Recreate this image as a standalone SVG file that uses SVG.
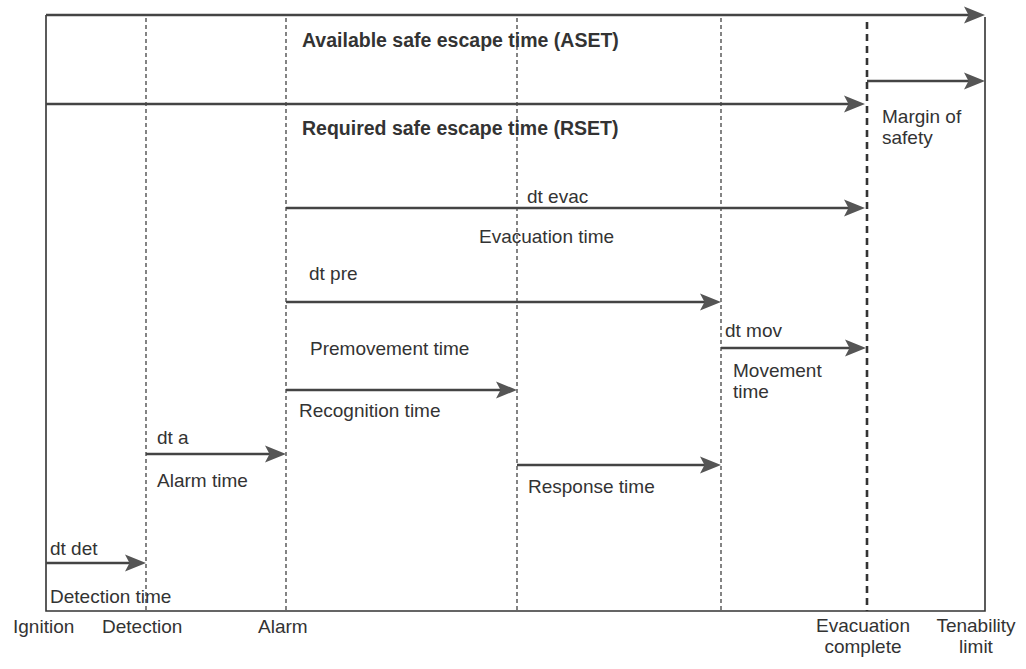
<svg xmlns="http://www.w3.org/2000/svg" width="1026" height="669" viewBox="0 0 1026 669">
<style>
  .frame{fill:none;stroke:#333;stroke-width:1.6}
  .vdash{stroke:#333;stroke-width:1.2;stroke-dasharray:4 3}
  .vthick{stroke:#333;stroke-width:2.6;stroke-dasharray:7 5}
  .arr{stroke:#444;stroke-width:2.6;fill:none;marker-end:url(#ah)}
  .t{font-family:"Liberation Sans",Arial,Helvetica,sans-serif;font-size:19px;fill:#333}
  .b{font-weight:bold;font-size:19.5px}
  .m{text-anchor:middle}
</style>
<defs>
  <marker id="ah" markerUnits="userSpaceOnUse" markerWidth="26" markerHeight="22" refX="10" refY="10" orient="auto">
    <path d="M22,10 L1,1.5 L5.5,10 L1,18.5 Z" fill="#555"/>
  </marker>
</defs>
<rect width="1026" height="669" fill="#ffffff"/>

<g id="frame">
  <path class="frame" d="M46,15 L46,611 L985,611 L985,17"/>
</g>

<g id="events">
  <line id="ev-detection" class="vdash" x1="146" y1="18" x2="146" y2="611"/>
  <line id="ev-alarm" class="vdash" x1="286" y1="18" x2="286" y2="611"/>
  <line id="ev-recognition" class="vdash" x1="517" y1="18" x2="517" y2="611"/>
  <line id="ev-premove" class="vdash" x1="721" y1="18" x2="721" y2="611"/>
  <line id="ev-evac" class="vthick" x1="867" y1="22" x2="867" y2="611"/>
</g>

<g id="connectors">
  <line id="c-aset" class="arr" x1="46" y1="15" x2="973" y2="15"/>
  <line id="c-margin" class="arr" x1="867" y1="81" x2="973" y2="81"/>
  <line id="c-rset" class="arr" x1="46" y1="104" x2="853" y2="104"/>
  <line id="c-evac" class="arr" x1="286" y1="208" x2="853" y2="208"/>
  <line id="c-pre" class="arr" x1="286" y1="302" x2="709" y2="302"/>
  <line id="c-mov" class="arr" x1="721" y1="348" x2="854" y2="348"/>
  <line id="c-recog" class="arr" x1="286" y1="390" x2="505" y2="390"/>
  <line id="c-alarm" class="arr" x1="146" y1="454" x2="274" y2="454"/>
  <line id="c-resp" class="arr" x1="517" y1="465" x2="709" y2="465"/>
  <line id="c-det" class="arr" x1="46" y1="563" x2="134" y2="563"/>
</g>

<g id="labels">
  <text class="t b" x="302" y="47">Available safe escape time (ASET)</text>
  <text class="t b" x="302" y="135">Required safe escape time (RSET)</text>
  <text class="t" x="882" y="123">Margin of</text>
  <text class="t" x="882" y="144">safety</text>
  <text class="t" x="527" y="203">dt evac</text>
  <text class="t" x="479" y="243">Evacuation time</text>
  <text class="t" x="309" y="280">dt pre</text>
  <text class="t" x="310" y="355">Premovement time</text>
  <text class="t" x="725" y="337">dt mov</text>
  <text class="t" x="733" y="377">Movement</text>
  <text class="t" x="733" y="398">time</text>
  <text class="t" x="299" y="417">Recognition time</text>
  <text class="t" x="157" y="444">dt a</text>
  <text class="t" x="157" y="487">Alarm time</text>
  <text class="t" x="528" y="493">Response time</text>
  <text class="t" x="50" y="555">dt det</text>
  <text class="t" x="50" y="603">Detection time</text>
  <text class="t" x="13" y="633">Ignition</text>
  <text class="t" x="102" y="633">Detection</text>
  <text class="t" x="258" y="633">Alarm</text>
  <text class="t m" x="863" y="632">Evacuation</text>
  <text class="t m" x="863" y="653">complete</text>
  <text class="t m" x="976" y="632">Tenability</text>
  <text class="t m" x="976" y="653">limit</text>
</g>
</svg>
